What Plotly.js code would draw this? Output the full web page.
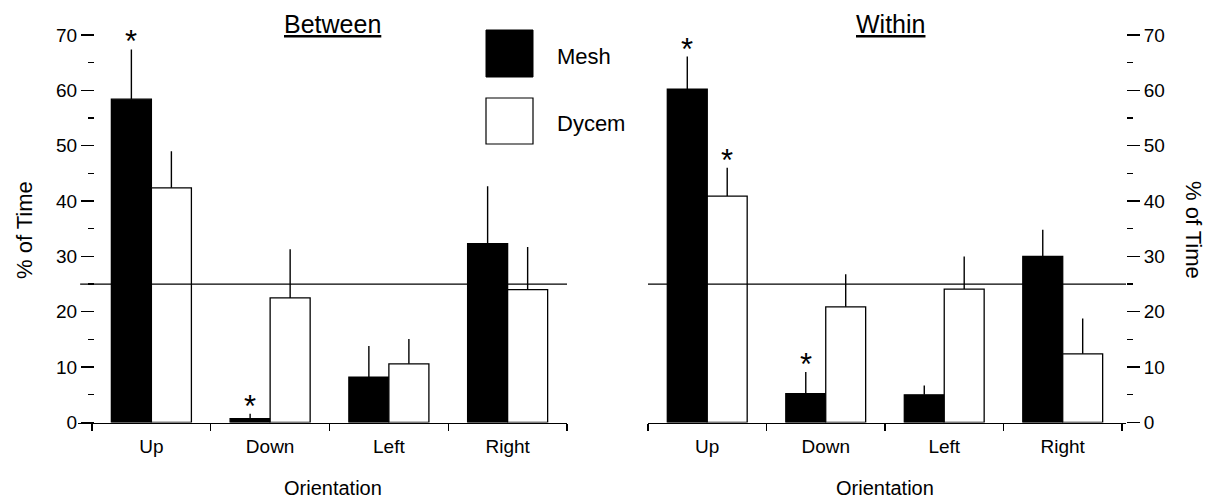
<!DOCTYPE html>
<html>
<head>
<meta charset="utf-8">
<script src="https://cdn.plot.ly/plotly-3.0.1.min.js"></script>
<style>html,body{margin:0;padding:0;background:#fff;}#chart{width:1207px;height:500px;}</style>
</head>
<body>
<div id="chart"></div>
<script>
// ---- data ----
const categories = ['Up', 'Down', 'Left', 'Right'];
const seriesNames = ['Mesh', 'Dycem'];
const panelTitles = ['Between', 'Within'];
const yTitle = '% of Time';
const xTitle = 'Orientation';
const chanceLevel = 25;

const betweenMesh = [58.4, 0.7, 8.2, 32.3];
const betweenMeshErr = [9.0, 0.9, 5.6, 10.4];
const betweenDycem = [42.4, 22.5, 10.6, 24.0];
const betweenDycemErr = [6.6, 8.8, 4.5, 7.7];

const withinMesh = [60.2, 5.2, 5.0, 30.0];
const withinMeshErr = [5.9, 3.9, 1.7, 4.8];
const withinDycem = [40.9, 20.9, 24.1, 12.4];
const withinDycemErr = [5.1, 5.9, 5.9, 6.4];

const betweenMeshSig = [true, true, false, false];
const betweenDycemSig = [false, false, false, false];
const withinMeshSig = [true, true, false, false];
const withinDycemSig = [true, false, false, false];

// ---- build ----
const FONT = 'Liberation Sans, Arial, Helvetica, sans-serif';
const W = 1207, H = 500;
const px = v => v / W;
const py = v => 1 - v / H;

function barTrace(vals, errs, name, xa, ya, fill) {
  return {
    type: 'bar', x: categories, y: vals, name: name,
    xaxis: xa, yaxis: ya,
    marker: {color: fill, line: {color: '#000', width: 1.3}},
    error_y: {type: 'data', symmetric: false, array: errs,
              arrayminus: errs.map(() => 0), width: 0, thickness: 1.4, color: '#000'},
    showlegend: false, hoverinfo: 'skip'
  };
}

const data = [
  barTrace(betweenMesh, betweenMeshErr, seriesNames[0], 'x', 'y', '#000'),
  barTrace(betweenDycem, betweenDycemErr, seriesNames[1], 'x', 'y', '#fff'),
  barTrace(withinMesh, withinMeshErr, seriesNames[0], 'x2', 'y2', '#000'),
  barTrace(withinDycem, withinDycemErr, seriesNames[1], 'x2', 'y2', '#fff')
];

const annotations = [];
function stars(vals, errs, sig, xref, yref, shift) {
  sig.forEach((s, i) => {
    if (!s) return;
    annotations.push({x: categories[i], y: vals[i] + errs[i], xref: xref, yref: yref,
      text: '*', showarrow: false, xshift: shift, xanchor: 'center', yanchor: 'bottom', yshift: -12,
      font: {family: FONT, size: 31, color: '#000'}});
  });
}
stars(betweenMesh, betweenMeshErr, betweenMeshSig, 'x', 'y', -20);
stars(betweenDycem, betweenDycemErr, betweenDycemSig, 'x', 'y', 20);
stars(withinMesh, withinMeshErr, withinMeshSig, 'x2', 'y2', -20);
stars(withinDycem, withinDycemErr, withinDycemSig, 'x2', 'y2', 20);

function note(text, x, y, size, opts) {
  annotations.push(Object.assign({text: text, xref: 'paper', yref: 'paper', x: px(x), y: py(y),
    xanchor: 'center', yanchor: 'middle', showarrow: false,
    font: {family: FONT, size: size, color: '#000'}}, opts || {}));
}
// panel titles
note('<u>' + panelTitles[0] + '</u>', 332, 24, 25);
note('<u>' + panelTitles[1] + '</u>', 890, 24, 25);
// axis titles
note(yTitle, 25, 230, 22, {textangle: -90});
note(yTitle, 1193, 230, 22, {textangle: 90});
note(xTitle, 333, 488, 20);
note(xTitle, 885, 488, 20);
// legend labels
note(seriesNames[0], 555, 57, 22, {xanchor: 'left'});
note(seriesNames[1], 555, 123, 22, {xanchor: 'left'});

const shapes = [
  {type: 'line', xref: 'x', yref: 'y', x0: -0.6, x1: 3.5, y0: chanceLevel, y1: chanceLevel,
   line: {color: '#000', width: 1.3}, layer: 'above'},
  {type: 'line', xref: 'x2', yref: 'y2', x0: -0.5, x1: 3.534, y0: chanceLevel, y1: chanceLevel,
   line: {color: '#000', width: 1.3}, layer: 'above'},
  // legend swatches
  {type: 'rect', xref: 'paper', yref: 'paper', x0: px(486), x1: px(533), y0: py(77), y1: py(30),
   fillcolor: '#000', line: {color: '#000', width: 1}},
  {type: 'rect', xref: 'paper', yref: 'paper', x0: px(486), x1: px(533), y0: py(144), y1: py(98),
   fillcolor: '#fff', line: {color: '#000', width: 1.2}}
];

const yDomain = [py(422.5), py(35)];
const xCommon = {
  type: 'category', showline: true, linecolor: '#000', linewidth: 1.3,
  ticks: 'outside', tickson: 'boundaries', ticklen: 7, tickwidth: 1.3, tickcolor: '#000',
  ticklabelstandoff: 6,
  tickfont: {family: FONT, size: 19, color: '#000'}, showgrid: false, zeroline: false,
  fixedrange: true
};
const yCommon = {
  range: [0, 70], domain: yDomain, dtick: 10, tick0: 0, showline: false, showgrid: false,
  zeroline: false, ticks: 'outside', ticklen: 13, tickwidth: 1.3, tickcolor: '#000',
  tickfont: {family: FONT, size: 19, color: '#000'},
  minor: {dtick: 5, ticks: 'outside', ticklen: 6, tickwidth: 1.3, tickcolor: '#000'},
  anchor: 'free', fixedrange: true
};

const layout = {
  width: W, height: H, margin: {l: 0, r: 0, t: 0, b: 0},
  paper_bgcolor: '#fff', plot_bgcolor: 'rgba(0,0,0,0)',
  barmode: 'group', bargap: 0.326, bargroupgap: 0,
  showlegend: false,
  font: {family: FONT, color: '#000'},
  xaxis: Object.assign({}, xCommon, {domain: [px(78), px(567)], range: [-0.618, 3.5], anchor: 'y'}),
  xaxis2: Object.assign({}, xCommon, {domain: [px(648), px(1126)], range: [-0.5, 3.534], anchor: 'y2'}),
  yaxis: Object.assign({}, yCommon, {side: 'left', position: px(94)}),
  yaxis2: Object.assign({}, yCommon, {side: 'right', position: px(1126)}),
  annotations: annotations,
  shapes: shapes
};

Plotly.newPlot('chart', data, layout, {staticPlot: true, displayModeBar: false});
</script>
</body>
</html>
